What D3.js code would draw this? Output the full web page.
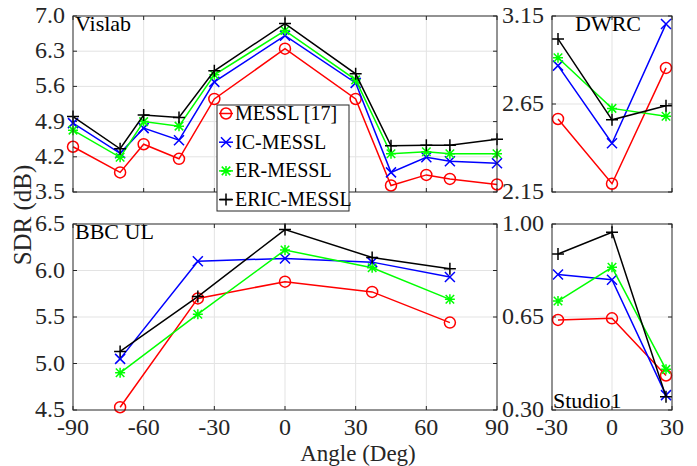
<!DOCTYPE html>
<html>
<head>
<meta charset="utf-8">
<script src="https://cdn.jsdelivr.net/npm/d3@7"></script>
<style>
  body { margin: 0; background: #fff; font-family: "Liberation Serif", serif; }
  svg text { font-family: "Liberation Serif", serif; }
</style>
</head>
<body>
<div id="chart"></div>
<script>
// ---- data ----
var seriesNames = ["MESSL [17]", "IC-MESSL", "ER-MESSL", "ERIC-MESSL"];
var seriesColors = ["#ff0000", "#0000ff", "#00ff00", "#000000"];
var seriesMarkers = ["circle", "x", "star", "plus"];

// Vislab
var vislabAngles = [-90, -70, -60, -45, -30, 0, 30, 45, 60, 70, 90];
var vislabMessl  = [4.40, 3.89, 4.45, 4.16, 5.35, 6.35, 5.35, 3.63, 3.84, 3.76, 3.65];
var vislabIc     = [4.87, 4.27, 4.77, 4.53, 5.69, 6.61, 5.67, 3.89, 4.19, 4.11, 4.07];
var vislabEr     = [4.73, 4.19, 4.90, 4.81, 5.83, 6.71, 5.73, 4.26, 4.30, 4.26, 4.26];
var vislabEric   = [5.00, 4.36, 5.03, 4.98, 5.91, 6.85, 5.85, 4.42, 4.43, 4.43, 4.55];
var vislabTicks  = [3.5, 4.2, 4.9, 5.6, 6.3, 7.0];

// DWRC
var dwrcAngles = [-27, 0, 27];
var dwrcMessl  = [2.565, 2.197, 2.855];
var dwrcIc     = [2.868, 2.427, 3.105];
var dwrcEr     = [2.913, 2.625, 2.580];
var dwrcEric   = [3.020, 2.560, 2.640];
var dwrcTicks  = [2.15, 2.65, 3.15];

// BBC UL
var bbcAngles = [-70, -37, 0, 37, 70];
var bbcMessl  = [4.53, 5.70, 5.88, 5.77, 5.44];
var bbcIc     = [5.05, 6.10, 6.13, 6.09, 5.93];
var bbcEr     = [4.90, 5.53, 6.22, 6.03, 5.69];
var bbcEric   = [5.13, 5.72, 6.44, 6.14, 6.02];
var bbcTicks  = [4.5, 5.0, 5.5, 6.0, 6.5];

// Studio1
var studioAngles = [-27, 0, 27];
var studioMessl  = [0.639, 0.645, 0.430];
var studioIc     = [0.810, 0.790, 0.356];
var studioEr     = [0.710, 0.837, 0.453];
var studioEric   = [0.887, 0.969, 0.350];
var studioTicks  = [0.30, 0.65, 1.00];

var wideXTicks  = [-90, -60, -30, 0, 30, 60, 90];
var narrowXTicks = [-30, 0, 30];

var W = 697, H = 466;
var svg = d3.select("#chart").append("svg")
            .attr("width", W).attr("height", H)
            .style("font-family", "Liberation Serif, serif");

// marker path generator (size in px)
function markerPath(type, s) {
  if (type === "x") return "M" + -s + "," + -s + "L" + s + "," + s + "M" + -s + "," + s + "L" + s + "," + -s;
  if (type === "plus") return "M" + -s*1.2 + ",0L" + s*1.2 + ",0M0," + -s*1.2 + "L0," + s*1.2;
  if (type === "star") {
    var d = s * 0.85;
    return "M" + -s + ",0L" + s + ",0M0," + -s + "L0," + s +
           "M" + -d + "," + -d + "L" + d + "," + d + "M" + -d + "," + d + "L" + d + "," + -d;
  }
  return null;
}

function drawMarker(g, type, color, x, y) {
  if (type === "circle") {
    g.append("circle").attr("cx", x).attr("cy", y).attr("r", 5.5)
     .attr("fill", "none").attr("stroke", color).attr("stroke-width", 1.5);
  } else {
    g.append("path").attr("transform", "translate(" + x + "," + y + ")")
     .attr("d", markerPath(type, 5)).attr("fill", "none")
     .attr("stroke", color).attr("stroke-width", 1.5);
  }
}

function addText(g) {
  return g.append("text").attr("fill", "#262626");
}

/*---- one panel: box, grid, inside ticks, lines + markers ----*/
function panel(opt) {
  var x = d3.scaleLinear().domain(opt.xDomain).range([opt.left, opt.right]);
  var y = d3.scaleLinear().domain(opt.yDomain).range([opt.bottom, opt.top]);
  var g = svg.append("g");

  // grid
  g.selectAll(".gx").data(opt.xGrid).enter().append("line")
   .attr("x1", d => x(d)).attr("x2", d => x(d))
   .attr("y1", opt.top).attr("y2", opt.bottom)
   .attr("stroke", "#e3e3e3").attr("stroke-width", 1);
  g.selectAll(".gy").data(opt.yGrid).enter().append("line")
   .attr("x1", opt.left).attr("x2", opt.right)
   .attr("y1", d => y(d)).attr("y2", d => y(d))
   .attr("stroke", "#e3e3e3").attr("stroke-width", 1);

  // ticks inside (all four sides)
  var tl = 4;
  g.selectAll(".tb").data(opt.xTicks).enter().append("path")
   .attr("d", d => "M" + x(d) + "," + opt.bottom + "v" + -tl + "M" + x(d) + "," + opt.top + "v" + tl)
   .attr("stroke", "#262626").attr("stroke-width", 1);
  g.selectAll(".tl").data(opt.yTicks).enter().append("path")
   .attr("d", d => "M" + opt.left + "," + y(d) + "h" + tl + "M" + opt.right + "," + y(d) + "h" + -tl)
   .attr("stroke", "#262626").attr("stroke-width", 1);

  // y labels
  opt.yTicks.forEach(function(d) {
    addText(g).attr("x", opt.left - 8).attr("y", y(d) + 7)
      .attr("text-anchor", "end").attr("font-size", 24)
      .text(d3.format(opt.yFmt)(d));
  });

  // x labels
  if (opt.showX) {
    opt.xTicks.forEach(function(d) {
      addText(g).attr("x", x(d)).attr("y", 435)
        .attr("text-anchor", "middle").attr("font-size", 24)
        .text(d);
    });
  }

  // series
  var line = d3.line().x(d => x(d[0])).y(d => y(d[1]));
  opt.series.forEach(function(vals, i) {
    var pts = opt.angles.map((a, j) => [a, vals[j]]);
    g.append("path").datum(pts).attr("d", line)
     .attr("fill", "none").attr("stroke", seriesColors[i]).attr("stroke-width", 1.5);
    pts.forEach(p => drawMarker(g, seriesMarkers[i], seriesColors[i], x(p[0]), y(p[1])));
  });

  // box
  g.append("rect").attr("x", opt.left).attr("y", opt.top)
   .attr("width", opt.right - opt.left).attr("height", opt.bottom - opt.top)
   .attr("fill", "none").attr("stroke", "#262626").attr("stroke-width", 1);

  // panel name
  addText(g).attr("x", opt.nameX).attr("y", opt.nameY)
   .attr("text-anchor", opt.nameAnchor || "start")
   .attr("font-size", 22).attr("fill", "#000").text(opt.name);
}

panel({ left: 73, right: 497, top: 16, bottom: 192,
        xDomain: [-90, 90], yDomain: [3.5, 7.0],
        xTicks: wideXTicks, yTicks: vislabTicks, xGrid: [-60, -30, 0, 30, 60], yGrid: [4.2, 4.9, 5.6, 6.3],
        yFmt: ".1f", showX: false,
        angles: vislabAngles, series: [vislabMessl, vislabIc, vislabEr, vislabEric],
        name: "Vislab", nameX: 75, nameY: 31 });

panel({ left: 552, right: 672, top: 16, bottom: 192,
        xDomain: [-30, 30], yDomain: [2.15, 3.15],
        xTicks: narrowXTicks, yTicks: dwrcTicks, xGrid: [0], yGrid: [2.65],
        yFmt: ".2f", showX: false,
        angles: dwrcAngles, series: [dwrcMessl, dwrcIc, dwrcEr, dwrcEric],
        name: "DWRC", nameX: 608, nameY: 31, nameAnchor: "middle" });

panel({ left: 73, right: 497, top: 224, bottom: 410,
        xDomain: [-90, 90], yDomain: [4.5, 6.5],
        xTicks: wideXTicks, yTicks: bbcTicks, xGrid: [-60, -30, 0, 30, 60], yGrid: [5.0, 5.5, 6.0],
        yFmt: ".1f", showX: true,
        angles: bbcAngles, series: [bbcMessl, bbcIc, bbcEr, bbcEric],
        name: "BBC UL", nameX: 75, nameY: 239 });

panel({ left: 552, right: 672, top: 224, bottom: 410,
        xDomain: [-30, 30], yDomain: [0.30, 1.00],
        xTicks: narrowXTicks, yTicks: studioTicks, xGrid: [0], yGrid: [0.65],
        yFmt: ".2f", showX: true,
        angles: studioAngles, series: [studioMessl, studioIc, studioEr, studioEric],
        name: "Studio1", nameX: 553, nameY: 408 });

// axis titles
addText(svg).attr("transform", "translate(31,215) rotate(-90)")
   .attr("text-anchor", "middle").attr("font-size", 25).text("SDR (dB)");
addText(svg).attr("x", 358).attr("y", 461)
   .attr("text-anchor", "middle").attr("font-size", 23).text("Angle (Deg)");

// legend
var leg = svg.append("g");
leg.append("rect").attr("x", 217).attr("y", 105).attr("width", 132).attr("height", 106)
   .attr("fill", "#fff").attr("stroke", "#262626").attr("stroke-width", 1);
seriesNames.forEach(function(name, i) {
  var yy = 113.5 + i * 28.7;
  leg.append("line").attr("x1", 219).attr("x2", 233).attr("y1", yy).attr("y2", yy)
     .attr("stroke", seriesColors[i]).attr("stroke-width", 1.5);
  drawMarker(leg, seriesMarkers[i], seriesColors[i], 226, yy);
  addText(leg).attr("x", 235).attr("y", yy + 6.5)
     .attr("font-size", 20).attr("fill", "#000").text(name);
});
</script>
</body>
</html>
